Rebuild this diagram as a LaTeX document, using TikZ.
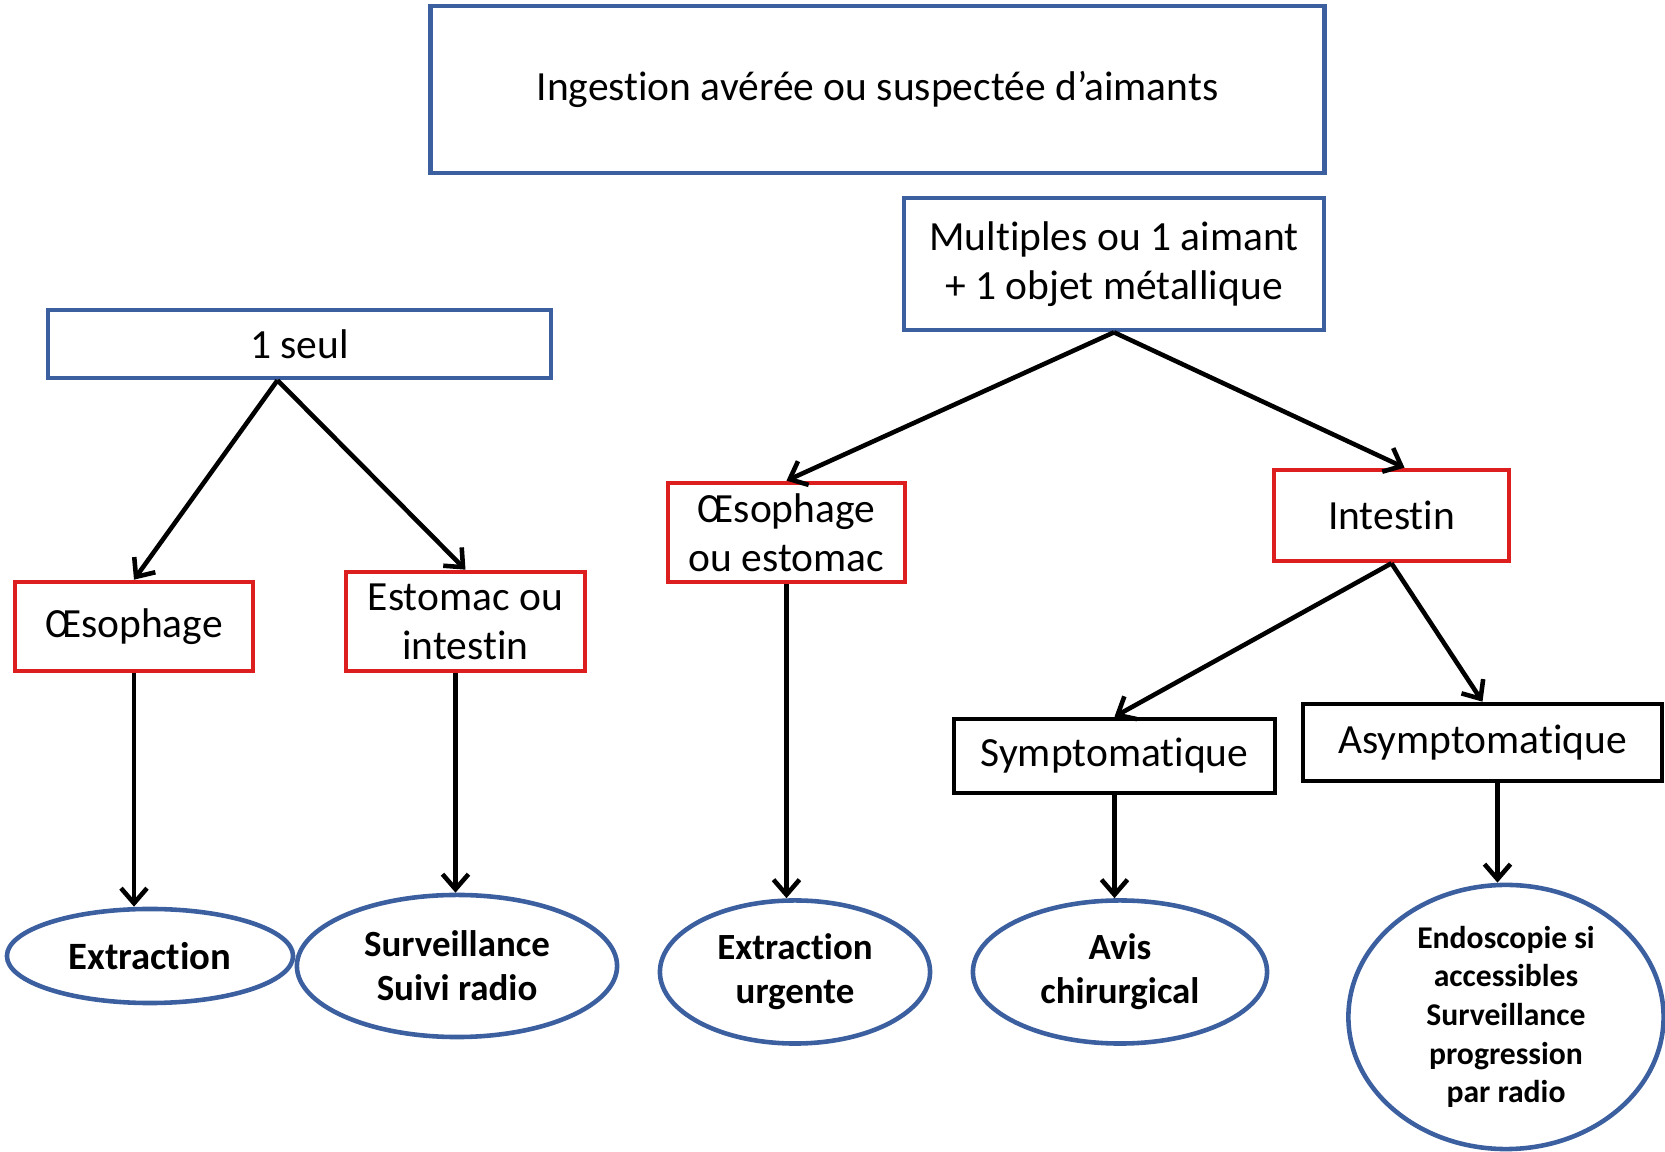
\documentclass[tikz,border=0pt]{standalone}
\usepackage{fontspec}
\setmainfont{Carlito}[Ligatures=NoCommon]
\usepackage{xcolor}
\usepackage{tikz}
\usetikzlibrary{shapes.geometric,arrows.meta}
\definecolor{boxblue}{RGB}{60, 95, 160}
\definecolor{boxred}{RGB}{220, 30, 30}
\tikzset{
  bluebox/.style={rectangle, draw=boxblue, line width=1.3pt, align=center, inner sep=0pt, font=\fontsize{11.8}{14}\selectfont},
  redbox/.style={rectangle, draw=boxred, line width=1.3pt, align=center, inner sep=0pt, font=\fontsize{11.8}{14}\selectfont},
  blackbox/.style={rectangle, draw=black, line width=1.3pt, align=center, inner sep=0pt, font=\fontsize{11.8}{14}\selectfont},
  outcome/.style={ellipse, draw=boxblue, line width=1.3pt, align=center, inner sep=0pt, font=\bfseries\fontsize{10.5}{12.6}\selectfont},
  arrow/.style={-{Straight Barb[length=1.5mm,width=2.6mm]}, line width=1.3pt}
}

\begin{document}
\begin{tikzpicture}[x=0.01cm, y=-0.01cm]
\useasboundingbox (0,0) rectangle (1665,1152);
% Top level
\node[bluebox, minimum width=8.93cm, minimum height=1.67cm] (ingestion) at (877.5,89.5) {Ingestion avérée ou suspectée d’aimants};
\node[bluebox, minimum width=4.2cm, minimum height=1.32cm] (multiples) at (1114,264) {Multiples ou 1 aimant\\+ 1 objet métallique};
\node[bluebox, minimum width=5.03cm, minimum height=0.68cm] (seul) at (299.5,344) {1 seul};

% Location
\node[redbox, minimum width=2.38cm, minimum height=0.89cm] (oesoA) at (134,626.5) {Œsophage};
\node[redbox, minimum width=2.39cm, minimum height=0.99cm] (estomac) at (465.5,621.5) {Estomac ou\\intestin};
\node[redbox, minimum width=2.37cm, minimum height=0.99cm] (oesoB) at (786.5,532.5) {Œsophage\\ou estomac};
\node[redbox, minimum width=2.35cm, minimum height=0.91cm] (intestin) at (1391.5,515.5) {Intestin};

% Symptoms
\node[blackbox, minimum width=3.21cm, minimum height=0.74cm] (sympto) at (1114.5,756) {Symptomatique};
\node[blackbox, minimum width=3.59cm, minimum height=0.77cm] (asympto) at (1482.5,742.5) {Asymptomatique};

% Outcomes
\node[outcome, minimum width=2.86cm, minimum height=0.94cm, font=\bfseries\fontsize{11}{13}\selectfont] (extraction) at (150,956) {Extraction};
\node[outcome, minimum width=3.2cm, minimum height=1.42cm] (surveil) at (457,966) {Surveillance\\Suivi radio};
\node[outcome, minimum width=2.7cm, minimum height=1.43cm] (urgente) at (795,972) {Extraction\\urgente};
\node[outcome, minimum width=2.94cm, minimum height=1.43cm] (avis) at (1120,972) {Avis\\chirurgical};
\node[outcome, minimum width=3.15cm, minimum height=2.64cm, font=\bfseries\fontsize{9}{11}\selectfont] (endo) at (1506,1017) {Endoscopie si\\accessibles\\Surveillance\\progression\\par radio};

% Branches
\draw[arrow] ([xshift=-0.22cm]seul.south) -- (oesoA.north);
\draw[arrow] ([xshift=-0.22cm]seul.south) -- (estomac.north);
\draw[arrow] (multiples.south) -- (oesoB.north);
\draw[arrow] (multiples.south) -- ([xshift=0.13cm]intestin.north);
\draw[arrow] (intestin.south) -- (sympto.north);
\draw[arrow] (intestin.south) -- (asympto.north);

% Down to outcomes
\draw[arrow] (oesoA.south) -- (oesoA.south |- extraction.north);
\draw[arrow] ([xshift=-0.1cm]estomac.south) -- ([xshift=-0.1cm]estomac.south |- surveil.north);
\draw[arrow] (oesoB.south) -- (oesoB.south |- urgente.north);
\draw[arrow] (sympto.south) -- (sympto.south |- avis.north);
\draw[arrow] ([xshift=0.15cm]asympto.south) -- ([xshift=0.15cm]asympto.south |- endo.north);
\end{tikzpicture}
\end{document}
